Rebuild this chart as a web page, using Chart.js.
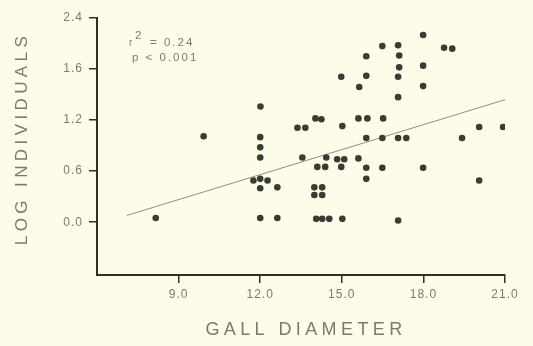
<!DOCTYPE html>
<html lang="en">

<head>
  <meta charset="UTF-8" />
  <title>Log individuals vs gall diameter</title>
  <script src="https://cdn.jsdelivr.net/npm/chart.js"></script>
  <style>
    html, body { margin: 0; padding: 0; background: #fcfce9; }
    #wrap { width: 533px; height: 346px; position: relative; }
  </style>
</head>

<body>
  <div id="wrap"><canvas id="chartCanvas"></canvas></div>

  <script>
    // gall diameter (x) and log individuals (y)
    const galls = [
      8.16, 9.92, 12.01, 12.0, 12.0, 12.0, 11.75, 12.0, 12.27, 12.0, 12.63, 12.0, 12.63,
      13.37, 13.66, 13.55, 14.03, 14.25, 14.98, 15.02, 14.43, 14.83, 15.09, 14.98,
      14.10, 14.39, 13.99, 14.28, 13.99, 14.28, 14.06, 14.28, 14.54, 15.02,
      15.61, 15.64, 15.61, 15.94, 16.52, 15.90, 15.90, 15.90, 16.49, 15.90, 16.49, 15.90,
      16.49, 17.07, 17.11, 17.11, 17.07, 17.07, 17.07, 17.37, 17.07,
      17.99, 17.99, 17.99, 17.99, 18.76, 19.06, 19.42, 20.05, 20.93, 20.05
    ];
    const logIndividuals = [
      0.05, 1.01, 1.36, 1.00, 0.88, 0.76, 0.49, 0.51, 0.49, 0.40, 0.41, 0.05, 0.05,
      1.11, 1.11, 0.76, 1.22, 1.21, 1.71, 1.13, 0.76, 0.74, 0.74, 0.65,
      0.65, 0.65, 0.41, 0.41, 0.32, 0.32, 0.04, 0.04, 0.04, 0.04,
      0.75, 1.59, 1.22, 1.22, 1.22, 1.95, 1.72, 0.99, 0.99, 0.64, 0.64, 0.51,
      2.07, 2.08, 1.96, 1.82, 1.71, 1.47, 0.99, 0.99, 0.02,
      2.20, 1.84, 1.60, 0.64, 2.05, 2.04, 0.99, 1.12, 1.12, 0.49
    ];

    // regression line end points
    const fitX = [7.1, 21.0];
    const fitY = [0.08, 1.44];

    const xTickValues = [9, 12, 15, 18, 21];
    const xTickLabels = ['9.0', '12.0', '15.0', '18.0', '21.0'];
    const yTickValues = [0, 0.6, 1.2, 1.8, 2.4];
    const yTickLabels = ['0.0', '0.6', '1.2', '1.6', '2.4'];

    const statLine1 = ['r', '2', '= 0.24'];
    const statLine2 = 'p < 0.001';

    const ink = '#2f2f2b';
    const textGrey = '#7a7a72';
    const fontFamily = "'Liberation Sans', Arial, sans-serif";

    const points = galls.map((g, i) => ({ x: g, y: logIndividuals[i] }));
    const fit = fitX.map((g, i) => ({ x: g, y: fitY[i] }));

    // letter spacing like the old typeset figure
    const spacingPlugin = {
      id: 'spacing',
      beforeDraw(chart) {
        ['x', 'y'].forEach(id => {
          const s = chart.scales[id];
          if (!s._spaced) {
            const orig = s.drawTitle;
            s.drawTitle = function () {
              this.ctx.save();
              this.ctx.letterSpacing = '4.4px';
              // nudge titles to where they sit in the scan
              if (id === 'y') this.ctx.translate(0, -8);
              else this.ctx.translate(5, 0);
              orig.apply(this, arguments);
              this.ctx.restore();
            };
            s._spaced = true;
          }
        });
        chart.ctx.letterSpacing = '1px';
      }
    };

    const statsPlugin = {
      id: 'stats',
      afterDraw(chart) {
        const ctx = chart.ctx;
        ctx.save();
        ctx.letterSpacing = '2px';
        ctx.fillStyle = textGrey;
        ctx.textBaseline = 'alphabetic';
        ctx.font = `10px ${fontFamily}`;
        ctx.fillText(statLine1[0], 129, 46);
        ctx.font = `11.5px ${fontFamily}`;
        ctx.fillText(statLine1[1], 135, 39);
        ctx.fillText(statLine1[2], 150, 46);
        ctx.fillText(statLine2, 132, 61);
        ctx.restore();
      }
    };

    new Chart(document.getElementById('chartCanvas'), {
      data: {
        datasets: [
          {
            type: 'scatter',
            data: points,
            backgroundColor: '#3b3b36',
            borderWidth: 0,
            pointRadius: 3.3,
            pointHoverRadius: 3.3
          },
          {
            type: 'line',
            data: fit,
            borderColor: '#8e8e86',
            borderWidth: 1,
            pointRadius: 0,
            fill: false
          }
        ]
      },
      options: {
        responsive: true,
        maintainAspectRatio: false,
        animation: false,
        events: [],
        layout: { padding: { left: 0, right: 28, top: 18, bottom: 0 } },
        plugins: {
          legend: { display: false },
          tooltip: { enabled: false }
        },
        scales: {
          x: {
            type: 'linear',
            min: 6,
            max: 21,
            afterBuildTicks: s => { s.ticks = xTickValues.map(v => ({ value: v })); },
            afterFit: s => { s.height = 71; },
            border: { display: true, color: ink, width: 2 },
            grid: { drawOnChartArea: false, drawTicks: true, tickLength: 8, color: ink, lineWidth: 1.5 },
            ticks: {
              padding: 4,
              color: textGrey,
              font: { family: fontFamily, size: 12 },
              maxRotation: 0,
              callback: v => xTickLabels[xTickValues.indexOf(v)]
            },
            title: {
              display: true,
              text: 'GALL DIAMETER',
              color: textGrey,
              font: { family: fontFamily, size: 18 },
              padding: { top: 0, bottom: 5 }
            }
          },
          y: {
            type: 'linear',
            min: -0.62,
            max: 2.4,
            afterBuildTicks: s => { s.ticks = yTickValues.map(v => ({ value: v })); },
            afterFit: s => { s.width = 97; },
            border: { display: true, color: ink, width: 2 },
            grid: { drawOnChartArea: false, drawTicks: true, tickLength: 8, color: ink, lineWidth: 1.5 },
            ticks: {
              padding: 6,
              color: textGrey,
              font: { family: fontFamily, size: 12 },
              callback: v => yTickLabels[yTickValues.indexOf(v)]
            },
            title: {
              display: true,
              text: 'LOG INDIVIDUALS',
              color: textGrey,
              font: { family: fontFamily, size: 17 },
              padding: { top: 12, bottom: 0 }
            }
          }
        }
      },
      plugins: [spacingPlugin, statsPlugin]
    });
  </script>
</body>

</html>
